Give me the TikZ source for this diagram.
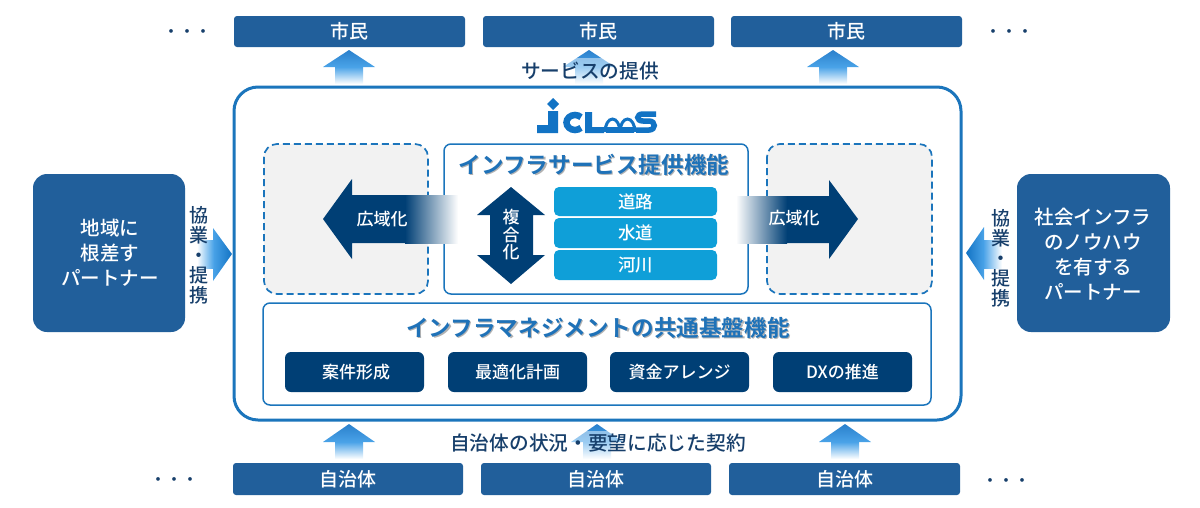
\documentclass[tikz,border=0pt]{standalone}
\usepackage{xcolor}
\usepackage{fontspec}
\setmainfont{Noto Sans CJK JP Medium}[BoldFont=Noto Sans CJK JP Bold]
\definecolor{boxblue}{HTML}{215F9B}
\definecolor{navyblue}{HTML}{003F75}
\definecolor{lineblue}{HTML}{1B75BC}
\definecolor{cyanblue}{HTML}{0F9FD8}
\definecolor{arrowblue}{HTML}{2A80CC}
\definecolor{arrowlight}{HTML}{4AA3E8}
\definecolor{inkblue}{HTML}{173F6B}
\definecolor{titleblue}{HTML}{1F72B8}
\definecolor{logoblue}{HTML}{1273C4}
\tikzset{
  bluebar/.style={draw=none,fill=boxblue,rounded corners=3pt,text=white,font=\fontsize{19}{20}\selectfont},
  partner/.style={draw=none,fill=boxblue,rounded corners=14pt,text=white},
  partnertext/.style={text=white,align=center,font=\fontsize{19.5}{25}\selectfont},
  servicebar/.style={draw=none,fill=cyanblue,rounded corners=5pt,text=white,font=\fontsize{17.5}{19}\selectfont},
  taskbar/.style={draw=none,fill=navyblue,rounded corners=6pt,text=white,font=\fontsize{17}{19}\selectfont},
  sidetext/.style={text=inkblue,align=center,font=\fontsize{19}{20}\selectfont},
  captiontext/.style={text=inkblue,font=\fontsize{19.7}{21}\selectfont},
  titletext/.style={font=\bfseries\fontsize{22.6}{24}\selectfont},
  dashedbox/.style={draw=lineblue,line width=1.7pt,dashed,dash pattern=on 7pt off 4pt,fill=black!5,rounded corners=13pt},
  thinbox/.style={draw=lineblue,line width=1.5pt,fill=white,rounded corners=7pt},
  dotstext/.style={text=inkblue,font=\fontsize{16}{18}\selectfont},
}
\begin{document}
\begin{tikzpicture}[x=1pt,y=-1pt]
\useasboundingbox (0,0) rectangle (1200,507);
%上の矢印
\foreach \x in {349,589,833}{
  \shade[top color=arrowblue,bottom color=arrowlight] (\x,50) -- (\x+26,67) -- (\x-26,67) -- cycle;
  \shade[top color=arrowlight,bottom color=white] (\x-14,67) rectangle (\x+14,84);
}
%下の矢印
\foreach \x in {349,597,845}{
  \shade[top color=arrowblue,bottom color=arrowlight] (\x,424) -- (\x+26,442) -- (\x-26,442) -- cycle;
  \shade[top color=arrowlight,bottom color=white] (\x-14,442) rectangle (\x+14,459);
}
%市民
\node[bluebar,minimum width=231pt,minimum height=31pt] (citizenA) at (349.5,31.5) {市民};
\node[bluebar,minimum width=231pt,minimum height=31pt] (citizenB) at (598.5,31.5) {市民};
\node[bluebar,minimum width=231pt,minimum height=31pt] (citizenC) at (846.5,31.5) {市民};
%自治体
\node[bluebar,minimum width=230pt,minimum height=32pt] (cityA) at (348,479) {自治体};
\node[bluebar,minimum width=230pt,minimum height=32pt] (cityB) at (596,479) {自治体};
\node[bluebar,minimum width=231pt,minimum height=32pt] (cityC) at (844.5,479) {自治体};
\node[dotstext] (dotsA) at (187,34) {・・・};
\node[dotstext] (dotsB) at (1009,34) {・・・};
\node[dotstext] (dotsC) at (174,482) {・・・};
\node[dotstext] (dotsD) at (1006,483) {・・・};
%外枠
\draw[draw=lineblue,line width=3pt,fill=white,rounded corners=24pt] (234,87) rectangle (961,420);
%矢印の上の文字
\fill[white,opacity=.45] (521,58) rectangle (659,84);
\fill[white,opacity=.45] (450,431) rectangle (747,459);
\node[captiontext] (offer) at (590,71) {サービスの提供};
\node[captiontext] (contract) at (598,443) {自治体の状況・要望に応じた契約};
%ロゴ
\fill[logoblue] (553,98) -- (559,104) -- (553,110) -- (547,104) -- cycle;
\fill[logoblue] (548,111) -- (558,111) -- (558,133) -- (537,133) -- (537,125) -- (548,125) -- cycle;
\draw[logoblue,line width=6.5pt] (581,127.8) arc(45:315:8.5 and 7.5);
\fill[logoblue] (585,112) -- (592,112) -- (592,127) -- (604,127) -- (604,133) -- (585,133) -- cycle;
\draw[logoblue,line width=3pt] (605,132) arc(180:360:7.5 and 13);
\draw[logoblue,line width=3pt] (620,132) arc(180:360:7.5 and 13);
\fill[logoblue] (606,127) rectangle (634,133);
\draw[logoblue,line width=5.5pt] (656,114) -- (643,114) .. controls (636,114) and (636,121) .. (643,121) -- (649,121) .. controls (656,121) and (656,130) .. (649,130) -- (636,130);
%点線の枠
\draw[dashedbox] (264,144) rectangle (428,294);
\draw[dashedbox] (767,144) rectangle (932,294);
%インフラサービス提供機能
\draw[thinbox] (444,144) rectangle (748,294);
\node[titletext,text=black!30] (servicetitleshadow) at (595.2,166.2) {インフラサービス提供機能};
\node[titletext,text=titleblue] (servicetitle) at (594,165) {インフラサービス提供機能};
\node[servicebar,minimum width=163pt,minimum height=29pt] (road) at (635.5,201.5) {道路};
\node[servicebar,minimum width=163pt,minimum height=30pt] (water) at (635.5,233) {水道};
\node[servicebar,minimum width=163pt,minimum height=30pt] (river) at (635.5,265) {河川};
%複合化
\fill[navyblue] (511,187) -- (545,215) -- (533,215) -- (533,255) -- (545,255) -- (511,284) -- (477,255) -- (490,255) -- (490,215) -- (477,215) -- cycle;
\node[text=white,align=center,font=\fontsize{17}{17.5}\selectfont] (mix) at (511,235) {複\\合\\化};
%広域化
\fill[navyblue] (323,219) -- (352,179) -- (352,195) -- (406,195) -- (406,243) -- (352,243) -- (352,259) -- cycle;
\shade[left color=navyblue,right color=white] (405,195) rectangle (458,243);
\node[text=white,font=\fontsize{17}{19}\selectfont] (wideL) at (382,219) {広域化};
\fill[navyblue] (858,219) -- (829,180) -- (829,196) -- (786,196) -- (786,243) -- (829,243) -- (829,259) -- cycle;
\shade[left color=white,right color=navyblue] (736,196) rectangle (787,243);
\node[text=white,font=\fontsize{17}{19}\selectfont] (wideR) at (794,218) {広域化};
%共通基盤機能
\draw[thinbox] (263,303) rectangle (931,405);
\node[titletext,text=black!30] (basetitleshadow) at (599.2,329.2) {インフラマネジメントの共通基盤機能};
\node[titletext,text=titleblue] (basetitle) at (598,328) {インフラマネジメントの共通基盤機能};
\node[taskbar,minimum width=139pt,minimum height=40pt] (taskA) at (354.5,372) {\hspace{3pt}案件形成};
\node[taskbar,minimum width=139pt,minimum height=40pt] (taskB) at (517.5,372) {最適化計画};
\node[taskbar,minimum width=139pt,minimum height=40pt] (taskC) at (679.5,372) {資金アレンジ};
\node[taskbar,minimum width=139pt,minimum height=40pt] (taskD) at (842.5,372) {DXの推進};
%パートナー
\node[partner,minimum width=152pt,minimum height=158pt] (partnerL) at (109,253) {};
\node[partner,minimum width=153pt,minimum height=158pt] (partnerR) at (1093.5,253) {};
\node[partnertext] at (110,253) (partnerLtext) {地域に\\根差す\\パートナー};
\node[partnertext] at (1093,254.5) (partnerRtext) {社会インフラ\\のノウハウ\\を有する\\パートナー};
%協業・提携
\shade[left color=arrowlight,right color=logoblue] (213,228) -- (232,254) -- (213,281) -- cycle;
\shade[left color=white,right color=arrowlight] (197,240) rectangle (213.5,268);
\shade[left color=logoblue,right color=arrowlight] (984,227) -- (966,253) -- (984,280) -- cycle;
\shade[left color=arrowlight,right color=white] (983.5,240) rectangle (1002,268);
\node[sidetext] (allyL) at (199,255.5) {協\\業\\・\\提\\携};
\node[sidetext] (allyR) at (1001,258) {協\\業\\・\\提\\携};
\end{tikzpicture}
\end{document}
